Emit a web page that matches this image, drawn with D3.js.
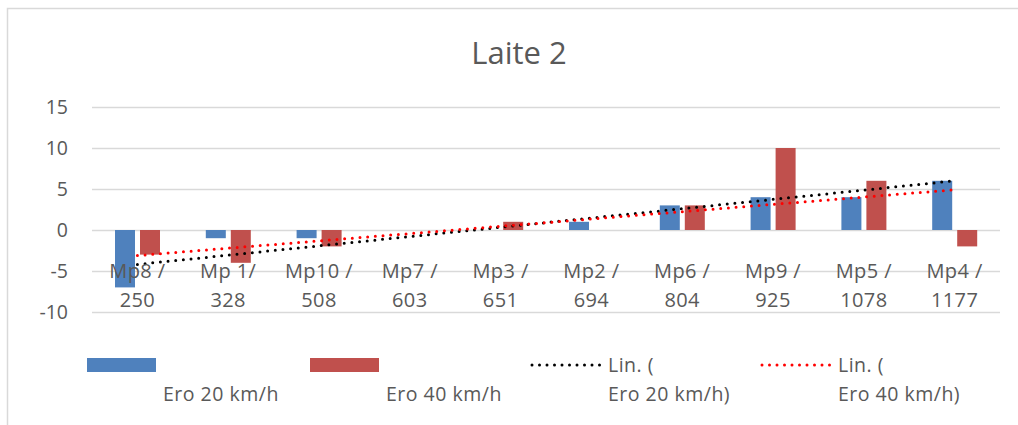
<!DOCTYPE html>
<html>
<head>
<meta charset="utf-8">
<script src="https://cdn.jsdelivr.net/npm/d3@7"></script>
<style>
  body { margin: 0; background: #fff; }
  text { font-family: "Open Sans", sans-serif; fill: #595959; }
</style>
</head>
<body>
<div id="chart"></div>
<script>
// data
var categories = ["Mp8 / 250", "Mp 1/ 328", "Mp10 / 508", "Mp7 / 603", "Mp3 / 651",
                  "Mp2 / 694", "Mp6 / 804", "Mp9 / 925", "Mp5 / 1078", "Mp4 / 1177"];
var catLine1 = ["Mp8 /", "Mp 1/", "Mp10 /", "Mp7 /", "Mp3 /", "Mp2 /", "Mp6 /", "Mp9 /", "Mp5 /", "Mp4 /"];
var catLine2 = ["250", "328", "508", "603", "651", "694", "804", "925", "1078", "1177"];
var ero20 = [-7, -1, -1, 0, 0, 1, 3, 4, 4, 6];
var ero40 = [-3, -4, -2, 0, 1, 0, 3, 10, 6, -2];
var yTicks = [-10, -5, 0, 5, 10, 15];
var seriesNames = ["Ero 20 km/h", "Ero 40 km/h"];

var W = 1018, H = 425;
var colors = ["#4f81bd", "#c0504d"];
var trendColors = ["#000000", "#ff0000"];

var svg = d3.select("#chart").append("svg")
  .attr("width", W)
  .attr("height", H);

// chart frame (right and bottom edges fall outside the picture)
svg.append("rect")
  .attr("x", 7.5).attr("y", 8.5)
  .attr("width", W + 20).attr("height", H + 20)
  .attr("fill", "#fff")
  .attr("stroke", "#d9d9d9")
  .attr("stroke-width", 1.5);

svg.append("text")
  .attr("x", 519).attr("y", 64)
  .attr("text-anchor", "middle")
  .style("font-size", "31px")
  .text("Laite 2");

var x = d3.scaleBand().domain(categories).range([92, 1000]);
var sub = d3.scaleBand().domain([0, 1]).range([23, 68]).paddingInner(0.2);
var y = d3.scaleLinear().domain([-10, 15]).range([312, 107]);

// gridlines + y labels
var yAxis = svg.append("g")
  .attr("transform", "translate(92,0)")
  .call(d3.axisLeft(y).tickValues(yTicks).tickSize(-908).tickPadding(24).tickFormat(String));
yAxis.select(".domain").remove();
yAxis.selectAll("line").attr("stroke", "#d9d9d9").attr("stroke-width", 1.3);
yAxis.selectAll("text")
  .style("font-size", "19.5px")
  .style("font-family", "Open Sans, sans-serif")
  .attr("fill", "#595959");

// bars
[ero20, ero40].forEach(function (vals, s) {
  svg.append("g").selectAll("rect")
    .data(vals)
    .join("rect")
    .attr("x", function (d, i) { return x(categories[i]) + sub(s); })
    .attr("width", sub.bandwidth())
    .attr("y", function (d) { return y(Math.max(0, d)); })
    .attr("height", function (d) { return Math.abs(y(d) - y(0)); })
    .attr("fill", colors[s]);
});

// linear trend (least squares over category index, like Excel)
function fit(vals) {
  var n = vals.length, xs = d3.range(1, n + 1);
  var mx = d3.mean(xs), my = d3.mean(vals);
  var sxy = d3.sum(xs, function (v, i) { return (v - mx) * (vals[i] - my); });
  var sxx = d3.sum(xs, function (v) { return (v - mx) * (v - mx); });
  var b = sxy / sxx, a = my - b * mx;
  return xs.map(function (v) { return a + b * v; });
}

var line = d3.line()
  .x(function (d, i) { return x(categories[i]) + x.bandwidth() / 2; })
  .y(function (d) { return y(d); });

[ero20, ero40].forEach(function (vals, s) {
  svg.append("path")
    .datum(fit(vals))
    .attr("d", line)
    .attr("fill", "none")
    .attr("stroke", trendColors[s])
    .attr("stroke-width", 3)
    .attr("stroke-linecap", "round")
    .attr("stroke-dasharray", "0 7.7");
});

// category labels (two lines)
var cats = svg.append("g").selectAll("text")
  .data(categories)
  .join("text")
  .attr("text-anchor", "middle")
  .style("font-size", "20px")
  .style("letter-spacing", "0.4px");
cats.append("tspan")
  .attr("x", function (d) { return x(d) + x.bandwidth() / 2; })
  .attr("y", 278)
  .text(function (d, i) { return catLine1[i]; });
cats.append("tspan")
  .attr("x", function (d) { return x(d) + x.bandwidth() / 2; })
  .attr("y", 307)
  .text(function (d, i) { return catLine2[i]; });

// legend
var legend = svg.append("g").style("font-size", "19.5px").style("letter-spacing", "0.5px");
var swX = [87, 310];
seriesNames.forEach(function (name, s) {
  legend.append("rect")
    .attr("x", swX[s]).attr("y", 358)
    .attr("width", 69).attr("height", 14)
    .attr("fill", colors[s]);
  legend.append("text")
    .attr("x", swX[s] + 76).attr("y", 401)
    .text(name);
});
var trX = [532, 762];
seriesNames.forEach(function (name, s) {
  legend.append("line")
    .attr("x1", trX[s]).attr("x2", trX[s] + 68)
    .attr("y1", 365).attr("y2", 365)
    .attr("stroke", trendColors[s])
    .attr("stroke-width", 3)
    .attr("stroke-linecap", "round")
    .attr("stroke-dasharray", "0 7.5");
  legend.append("text")
    .attr("x", trX[s] + 76).attr("y", 372)
    .text("Lin. (");
  legend.append("text")
    .attr("x", trX[s] + 76).attr("y", 401)
    .text(name + ")");
});
</script>
</body>
</html>
